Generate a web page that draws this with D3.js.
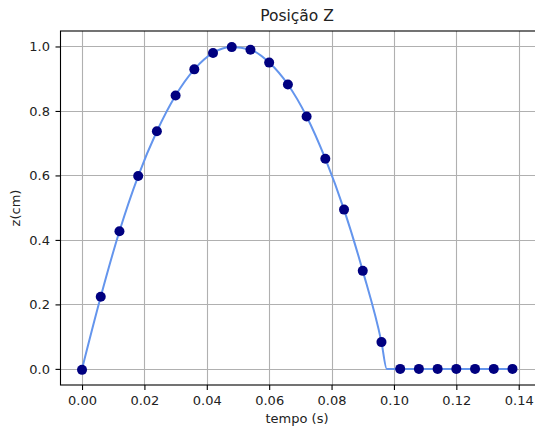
<!DOCTYPE html>
<html>
<head>
<meta charset="utf-8">
<script src="https://cdn.jsdelivr.net/npm/d3@7"></script>
<style>
  body { margin: 0; background: #fff; }
  svg { display: block; font-family: "DejaVu Sans", sans-serif; }
</style>
</head>
<body>
<div id="chart"></div>
<script>
// sampled points (markers)
const tempo = [0.000, 0.006, 0.012, 0.018, 0.024, 0.030, 0.036, 0.042, 0.048, 0.054, 0.060, 0.066,
               0.072, 0.078, 0.084, 0.090, 0.096, 0.102, 0.108, 0.114, 0.120, 0.126, 0.132, 0.138];
const posZ = [-0.003, 0.224, 0.427, 0.598, 0.737, 0.848, 0.929, 0.980, 0.998, 0.990, 0.950, 0.882,
              0.783, 0.652, 0.494, 0.304, 0.083, 0.000, 0.000, 0.000, 0.000, 0.000, 0.000, 0.000];
// continuous curve
const curveT = [0.000, 0.006, 0.012, 0.018, 0.024, 0.030, 0.036, 0.042, 0.048, 0.054, 0.060, 0.066,
                0.072, 0.078, 0.084, 0.090, 0.096, 0.0977, 0.138];
const curveZ = [0.000, 0.224, 0.427, 0.598, 0.737, 0.848, 0.929, 0.980, 0.998, 0.990, 0.950, 0.882,
                0.783, 0.652, 0.494, 0.304, 0.083, 0.000, 0.000];
const xTicks = [0.00, 0.02, 0.04, 0.06, 0.08, 0.10, 0.12, 0.14];
const yTicks = [0.0, 0.2, 0.4, 0.6, 0.8, 1.0];

const width = 535, height = 427;
const margin = {left: 60.5, right: 1, top: 31, bottom: 42};

const svg = d3.select('#chart').append('svg')
  .attr('width', width)
  .attr('height', height);

const x = d3.scaleLinear()
  .domain([-0.0069, 0.1449])
  .range([margin.left, width - margin.right]);
const y = d3.scaleLinear()
  .domain([-0.05, 1.048])
  .range([height - margin.bottom, margin.top]);

// right spine falls just past the picture edge (cropped in the original)
const x0 = margin.left, x1 = width + 3;
const y0 = height - margin.bottom, y1 = margin.top;

// grid
svg.append('g')
  .selectAll('line')
  .data(xTicks)
  .join('line')
  .attr('x1', d => Math.round(x(d)) + 0.5)
  .attr('x2', d => Math.round(x(d)) + 0.5)
  .attr('y1', y0).attr('y2', y1)
  .attr('stroke', '#b0b0b0').attr('stroke-width', 1.1);
svg.append('g')
  .selectAll('line')
  .data(yTicks)
  .join('line')
  .attr('y1', d => Math.round(y(d)) + 0.5)
  .attr('y2', d => Math.round(y(d)) + 0.5)
  .attr('x1', x0).attr('x2', x1)
  .attr('stroke', '#b0b0b0').attr('stroke-width', 1.1);

// axes
const xAxis = svg.append('g')
  .attr('transform', `translate(0,${y0})`)
  .call(d3.axisBottom(x).tickValues(xTicks).tickFormat(d3.format('.2f')).tickSize(5).tickSizeOuter(0));
const yAxis = svg.append('g')
  .attr('transform', `translate(${x0},0)`)
  .call(d3.axisLeft(y).tickValues(yTicks).tickFormat(d3.format('.1f')).tickSize(5).tickSizeOuter(0));

[xAxis, yAxis].forEach(a => {
  a.select('.domain').remove();
  a.selectAll('line').attr('stroke', '#000').attr('stroke-width', 1.1);
  a.selectAll('text').attr('fill', '#222').style('font-family', '"DejaVu Sans", sans-serif').style('font-size', '13px');
});
xAxis.selectAll('text').attr('dy', '0.71em').attr('y', 11);
yAxis.selectAll('text').attr('x', -10.5);

// curve
const line = d3.line()
  .x(i => x(curveT[i]))
  .y(i => y(curveZ[i]))
  .curve(d3.curveMonotoneX);
svg.append('path')
  .datum(d3.range(curveT.length))
  .attr('d', line)
  .attr('fill', 'none')
  .attr('stroke', '#6495ed')
  .attr('stroke-width', 2);

// markers
svg.append('g')
  .selectAll('circle')
  .data(d3.range(tempo.length))
  .join('circle')
  .attr('cx', i => x(tempo[i]))
  .attr('cy', i => y(posZ[i]))
  .attr('r', 5)
  .attr('fill', '#000080');

// spines
svg.append('rect')
  .attr('x', x0).attr('y', y1)
  .attr('width', x1 - x0).attr('height', y0 - y1)
  .attr('fill', 'none').attr('stroke', '#000').attr('stroke-width', 1.1);

// labels
svg.append('text')
  .attr('x', 297).attr('y', 21)
  .attr('text-anchor', 'middle')
  .style('font-size', '15.5px').attr('fill', '#222')
  .text('Posição Z');
svg.append('text')
  .attr('x', 297).attr('y', 423)
  .attr('text-anchor', 'middle')
  .style('font-size', '13px').attr('fill', '#222')
  .text('tempo (s)');
svg.append('text')
  .attr('transform', `translate(20,${(y0 + y1) / 2}) rotate(-90)`)
  .attr('text-anchor', 'middle')
  .style('font-size', '13px').attr('fill', '#222')
  .text('z(cm)');
</script>
</body>
</html>
